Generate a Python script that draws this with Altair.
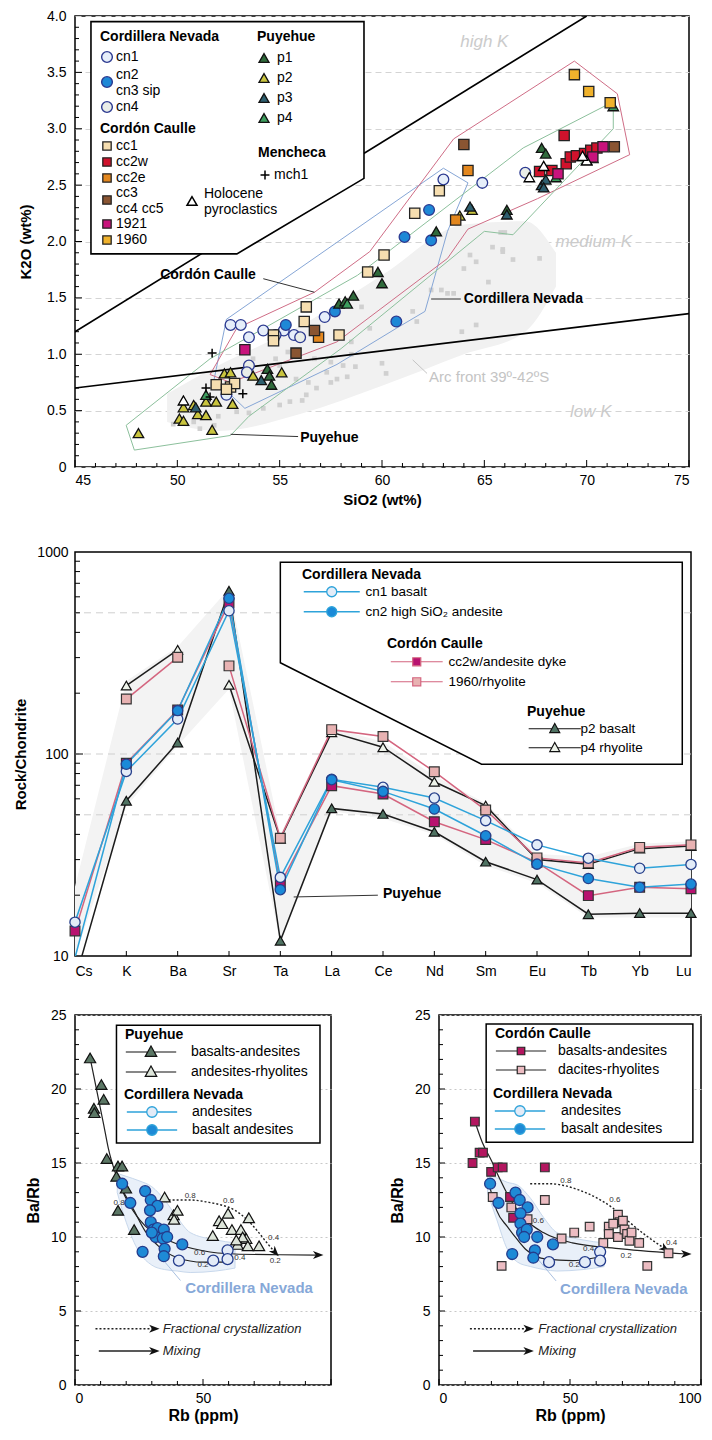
import altair as alt
import pandas as pd

FONT = "Liberation Sans"

# ======================= PANEL A : K2O vs SiO2 =======================
cn1_si = [52.6, 53.1, 53.5, 54.2, 52.4, 55.2, 55.7, 57.2, 63.0, 64.9, 54.8]
cn1_k = [1.26, 1.26, 1.15, 1.21, 0.64, 1.21, 1.17, 1.33, 2.55, 2.52, 1.17]
cn23_si = [55.3, 57.7, 61.1, 62.4, 62.3, 60.7]
cn23_k = [1.26, 1.38, 2.04, 2.01, 2.28, 1.29]
cn4_si = [53.5, 53.4, 56.0, 67.0]
cn4_k = [0.90, 0.84, 1.15, 2.61]

cc1_si = [51.9, 52.6, 52.8, 52.4, 54.7, 54.7, 56.3, 56.2, 57.9, 59.3, 60.1, 61.6, 62.8]
cc1_k = [0.73, 0.71, 0.74, 0.69, 1.17, 1.12, 1.42, 1.29, 1.17, 1.73, 1.88, 2.25, 2.45]
cc2w_si = [68.9, 67.7, 69.0, 69.2, 69.5, 69.9, 70.2, 70.5, 68.3]
cc2w_k = [2.94, 2.62, 2.69, 2.75, 2.76, 2.78, 2.81, 2.83, 2.63]
cc2e_si = [56.9, 64.2, 63.6]
cc2e_k = [1.15, 2.63, 2.19]
cc34_si = [55.8, 56.7, 64.0, 71.35]
cc34_k = [1.01, 1.21, 2.86, 2.84]
y1921_si = [53.3, 68.6, 70.8, 70.3]
y1921_k = [1.04, 2.60, 2.84, 2.75]
y1960_si = [69.4, 70.1, 71.15]
y1960_k = [3.48, 3.33, 3.23]

p1_si = [54.4, 54.5, 54.6, 57.9, 58.2, 59.8, 60.0, 62.65, 66.1, 67.8, 68.0, 58.6]
p1_k = [0.87, 0.81, 0.73, 1.45, 1.47, 1.73, 1.63, 2.09, 2.28, 2.83, 2.78, 1.52]
p2_si = [48.1, 50.3, 50.1, 50.3, 51.0, 51.4, 51.4, 51.9, 51.7, 52.3, 52.6, 52.7, 53.7, 55.1, 63.8, 64.4, 50.8]
p2_k = [0.30, 0.53, 0.43, 0.41, 0.47, 0.46, 0.58, 0.58, 0.33, 0.83, 0.84, 0.56, 0.81, 0.84, 2.23, 2.28, 0.55]
p3_si = [54.1, 50.9, 64.3, 67.8, 68.0, 67.9, 70.0, 70.3, 66.1]
p3_k = [0.77, 0.53, 2.31, 2.50, 2.55, 2.48, 2.72, 2.74, 2.24]
p4_si = [51.4, 58.3, 68.5, 71.3, 67.7]
p4_k = [0.64, 1.45, 2.57, 3.20, 2.62]
mch_si = [51.7, 51.4, 53.2, 51.6]
mch_k = [1.01, 0.70, 0.65, 0.62]
hol_si = [50.3, 67.9, 70.0, 67.2, 69.8]
hol_k = [0.59, 2.67, 2.72, 2.57, 2.76]

arc_si = [64.3, 64.0, 64.6, 65.4, 65.9, 66.4, 67.7, 65.2, 62.9, 63.2, 63.5, 63.9, 64.6, 62.4, 61.5,
          61.7, 60.0, 60.2, 58.5, 59.0, 58.3, 59.4, 65.8, 66.0, 65.9, 51.1, 51.8, 52.9, 53.5, 54.2,
          55.0, 55.5, 56.1, 56.3, 56.8, 57.5, 57.8, 56.7, 57.5, 58.1, 57.3, 55.9, 55.4, 54.8, 53.7,
          55.0, 55.8, 56.4, 58.5, 58.7, 52.0, 50.8, 49.8]
arc_k = [1.88, 1.76, 1.82, 1.95, 1.91, 1.84, 1.85, 1.64, 1.57, 1.54, 1.54, 1.20, 1.26, 1.57, 1.38,
         1.29, 0.92, 0.83, 1.11, 1.42, 0.80, 1.23, 2.08, 2.08, 1.93, 0.34, 0.37, 0.49, 0.48, 0.52,
         0.55, 0.58, 0.59, 0.64, 0.70, 0.75, 0.78, 0.96, 0.93, 0.90, 0.84, 0.99, 1.02, 0.96, 0.96,
         0.90, 0.78, 0.75, 1.00, 0.89, 0.45, 0.40, 0.38]
band_si = [49.5, 52.0, 56.0, 60.0, 64.0, 67.0, 68.5]
band_lo = [0.40, 0.32, 0.47, 0.72, 1.00, 1.20, 1.60]
band_hi = [0.65, 0.90, 1.25, 1.70, 2.15, 2.18, 1.90]

field_cn_si = [52.4, 63.0, 64.2, 63.2, 62.1, 60.7, 57.8, 53.3, 51.8, 52.4]
field_cn_k = [1.31, 2.65, 2.52, 2.09, 1.38, 1.23, 0.91, 0.52, 0.78, 1.31]
field_cc_si = [69.4, 71.5, 72.1, 67.6, 64.2, 63.2, 57.8, 52.6, 51.6, 52.9, 56.7, 59.4, 63.5, 69.4]
field_cc_k = [3.60, 3.31, 2.77, 2.38, 2.11, 1.85, 1.11, 0.75, 0.82, 1.23, 1.55, 1.91, 2.91, 3.60]
field_p_si = [47.5, 47.9, 52.6, 53.5, 58.0, 65.0, 66.4, 71.3, 71.3, 66.9, 58.8, 51.6, 47.5]
field_p_k = [0.37, 0.15, 0.28, 0.45, 1.05, 2.09, 2.06, 3.00, 3.24, 2.83, 1.70, 0.96, 0.37]

bound_si = [45, 70, 45, 75]
bound_k = [1.2, 4.0, 0.7, 1.36]
bound_id = ["hk", "hk", "lk", "lk"]

legA_box_si = [45.78, 52.91, 59.12]
legA_box_top = [3.95, 3.95, 3.95]
legA_box_bot = [1.89, 1.89, 2.56]


def pts(items):
    rows = []
    for cat, xs, ys in items:
        rows += [{"x": a, "y": b, "cat": cat} for a, b in zip(xs, ys)]
    return pd.DataFrame(rows)


def path(xs, ys, key="a"):
    return pd.DataFrame({"x": xs, "y": ys, "o": list(range(len(xs))), "key": key})


def leg(title, lx, ly, **kw):
    base = dict(orient="none", legendX=lx, legendY=ly, padding=0, direction="vertical",
                titleFont=FONT, titleFontWeight="bold", titleColor="black", titleFontSize=14,
                labelFont=FONT, labelColor="black", labelFontSize=14, labelLimit=400)
    base.update(kw)
    return alt.Legend(title=title, **base)


def yt(vals, yf, length):
    return alt.Chart(pd.DataFrame({"v": vals})).mark_rule(color="black", strokeWidth=1).encode(
        y=yf("v"), x=alt.value(0), x2=alt.value(length))


def xt(vals, xf, length, H):
    return alt.Chart(pd.DataFrame({"v": vals})).mark_rule(color="black", strokeWidth=1).encode(
        x=xf("v"), y=alt.value(H), y2=alt.value(H - length))


def line_sym(shape, L):
    if shape == "circle":
        return f"M{-L},0L-1,0M1,0L{L},0M1,0A1,1,0,1,1,-1,0A1,1,0,1,1,1,0Z"
    if shape == "square":
        return f"M{-L},0L-0.9,0M0.9,0L{L},0M-0.9,-0.9L0.9,-0.9L0.9,0.9L-0.9,0.9Z"
    return f"M{-L},0L-0.6,0M0.6,0L{L},0M0,-1.1L1.05,0.8L-1.05,0.8Z"


AXL = dict(labelFont=FONT, titleFont=FONT, labelColor="black", titleColor="black",
           titleFontWeight="bold", ticks=False, domain=False)

W1, H1 = 614, 451
sAx = alt.Scale(domain=[45, 75], nice=False, zero=False)
sAy = alt.Scale(domain=[0, 4], nice=False, zero=False)
AX_A_X = alt.Axis(title="SiO2 (wt%)", values=[45, 50, 55, 60, 65, 70, 75], grid=False, labelFontSize=14,
                  titleFontSize=15, labelPadding=6, titlePadding=5, **AXL)
AX_A_Y = alt.Axis(title="K2O (wt%)", values=[0, 0.5, 1, 1.5, 2, 2.5, 3, 3.5, 4],
                  labelExpr="datum.value == 0 ? '0' : format(datum.value, '.1f')",
                  grid=True, gridDash=[6, 4], gridColor="#d4d4d4", labelFontSize=14, titleFontSize=15,
                  labelPadding=9, titlePadding=13, **AXL)


def XA(f):
    return alt.X(f"{f}:Q", scale=sAx, axis=AX_A_X)


def YA(f):
    return alt.Y(f"{f}:Q", scale=sAy, axis=AX_A_Y)


a_band = alt.Chart(pd.DataFrame({"x": band_si, "lo": band_lo, "hi": band_hi})).mark_area(
    color="#f1f1f1", interpolate="monotone").encode(x=XA("x"), y=YA("lo"), y2="hi:Q")

a_arc = alt.Chart(pd.DataFrame({"x": arc_si, "y": arc_k})).mark_square(size=22, color="#d0d0d0", opacity=1).encode(
    x=XA("x"), y=YA("y"))

fields = pd.concat([path(field_cn_si, field_cn_k, "Cordillera Nevada"),
                    path(field_cc_si, field_cc_k, "Cordón Caulle"),
                    path(field_p_si, field_p_k, "Puyehue")])
a_fields = alt.Chart(fields).mark_line(strokeWidth=1).encode(
    x=XA("x"), y=YA("y"), order="o:Q",
    color=alt.Color("key:N", scale=alt.Scale(domain=["Cordillera Nevada", "Cordón Caulle", "Puyehue"],
                                             range=["#86a6d6", "#cf6d86", "#8cc09c"]), legend=None))

a_bounds = alt.Chart(pd.DataFrame({"x": bound_si, "y": bound_k, "key": bound_id})).mark_line(
    color="black", strokeWidth=1.6, clip=True).encode(x=XA("x"), y=YA("y"), detail="key:N")

a_box = alt.Chart(pd.DataFrame({"x": legA_box_si, "top": legA_box_top, "bot": legA_box_bot})).mark_area(
    fill="white", stroke="black", strokeWidth=1.6).encode(x=XA("x"), y=YA("bot"), y2="top:Q")

ann_gray_it = pd.DataFrame({"x": [65.0, 70.35, 70.2], "y": [3.77, 2.0, 0.49], "t": ["high K", "medium K", "low K"]})
a_txt1 = alt.Chart(ann_gray_it).mark_text(font=FONT, fontSize=17, fontStyle="italic", color="#cbcbcb").encode(
    x=XA("x"), y=YA("y"), text="t:N")
a_txt2 = alt.Chart(pd.DataFrame({"x": [62.3], "y": [0.80], "t": ["Arc front 39º-42ºS"]})).mark_text(
    font=FONT, fontSize=15, color="#c4c4c4", align="left").encode(x=XA("x"), y=YA("y"), text="t:N")
a_txt3 = alt.Chart(pd.DataFrame({"x": [51.5], "y": [1.70], "t": ["Cordón Caulle"]})).mark_text(
    font=FONT, fontSize=14, fontWeight="bold", color="black").encode(x=XA("x"), y=YA("y"), text="t:N")
a_txt4 = alt.Chart(pd.DataFrame({"x": [64.0, 56.0], "y": [1.49, 0.26], "t": ["Cordillera Nevada", "Puyehue"]})).mark_text(
    font=FONT, fontSize=14, fontWeight="bold", color="black", align="left").encode(x=XA("x"), y=YA("y"), text="t:N")
leaders = pd.DataFrame({"x": [54.2, 56.7, 62.4, 63.85, 52.6, 55.9], "y": [1.67, 1.55, 1.49, 1.49, 0.29, 0.27],
                        "key": ["a", "a", "b", "b", "c", "c"]})
a_lead = alt.Chart(leaders).mark_line(color="#333", strokeWidth=1).encode(x=XA("x"), y=YA("y"), detail="key:N")
a_lead2 = alt.Chart(pd.DataFrame({"x": [61.5, 62.2], "y": [0.95, 0.83]})).mark_line(color="#c4c4c4", strokeWidth=1).encode(
    x=XA("x"), y=YA("y"))


def group_layer(items, domain, colors, shape, size, stroke, legend, sw=1.3):
    return alt.Chart(pts(items)).mark_point(shape=shape, filled=True, size=size, stroke=stroke, strokeWidth=sw,
                                            opacity=1).encode(
        x=XA("x"), y=YA("y"),
        fill=alt.Fill("cat:N", scale=alt.Scale(domain=domain, range=colors), legend=legend))


CN_STROKE = "#2b3990"
a_cn1 = group_layer([("cn1", cn1_si, cn1_k)], ["cn1"], ["#e6eefa"], "circle", 115, CN_STROKE,
                    leg("Cordillera Nevada", 25, 14, symbolType="circle", symbolSize=115, symbolStrokeColor=CN_STROKE,
                        symbolStrokeWidth=1.4, titlePadding=6, labelOffset=2))
a_cn23 = group_layer([("cn2/cn3", cn23_si, cn23_k)], ["cn2/cn3"], ["#1e88d6"], "circle", 115, CN_STROKE,
                     leg(None, 25, 59, symbolType="circle", symbolSize=115, symbolStrokeColor=CN_STROKE,
                         symbolStrokeWidth=1.4, labelOffset=2, labelBaseline="bottom",
                         labelExpr="['cn2', 'cn3   sip']"))
a_cn4 = group_layer([("cn4", cn4_si, cn4_k)], ["cn4"], ["#e9ede8"], "circle", 115, CN_STROKE,
                    leg(None, 25, 84, symbolType="circle", symbolSize=115, symbolStrokeColor=CN_STROKE,
                        symbolStrokeWidth=1.4, labelOffset=2))

CC_OPTS = dict(symbolType="square", symbolSize=70, symbolStrokeColor="#222", symbolStrokeWidth=1.3, labelOffset=2)
a_cc1 = group_layer([("cc1", cc1_si, cc1_k), ("cc2w", cc2w_si, cc2w_k), ("cc2e", cc2e_si, cc2e_k)],
                    ["cc1", "cc2w", "cc2e"], ["#f6deb0", "#d0122c", "#e3871e"], "square", 105, "#222",
                    leg("Cordón Caulle", 25, 106, rowPadding=2, titlePadding=3, **CC_OPTS))
a_cc34 = group_layer([("cc3/cc4", cc34_si, cc34_k)], ["cc3/cc4"], ["#8a5532"], "square", 105, "#222",
                     leg(None, 25, 177, labelBaseline="bottom", labelExpr="['cc3', 'cc4   cc5']", **CC_OPTS))
a_cc5 = group_layer([("1921", y1921_si, y1921_k), ("1960", y1960_si, y1960_k)],
                    ["1921", "1960"], ["#c8137c", "#f0b22c"], "square", 105, "#222",
                    leg(None, 25, 201, rowPadding=2, **CC_OPTS))

a_p = group_layer([("p1", p1_si, p1_k), ("p2", p2_si, p2_k), ("p3", p3_si, p3_k), ("p4", p4_si, p4_k)],
                  ["p1", "p2", "p3", "p4"], ["#2f6a3b", "#c9c43e", "#2e5f6f", "#3d9d5d"], "triangle-up", 110, "#111",
                  leg("Puyehue", 182, 14, symbolType="triangle-up", symbolSize=100, symbolStrokeColor="#111",
                      symbolStrokeWidth=1.3, rowPadding=6, titlePadding=7, labelOffset=6))

PLUS = "M-1,0L1,0M0,-1L0,1"
a_m = alt.Chart(pts([("mch1", mch_si, mch_k)])).mark_point(shape=PLUS, filled=False, size=80, strokeWidth=1.5, opacity=1).encode(
    x=XA("x"), y=YA("y"),
    stroke=alt.Stroke("cat:N", scale=alt.Scale(domain=["mch1"], range=["black"]),
                      legend=leg("Mencheca", 183, 130, symbolType=PLUS, symbolSize=80, symbolStrokeWidth=1.5,
                                 titlePadding=8, labelOffset=2)))

a_h = group_layer([("Holocene pyroclastics", hol_si, hol_k)], ["Holocene pyroclastics"], ["white"], "triangle-up",
                  110, "black",
                  leg(None, 110, 178, symbolType="triangle-up", symbolSize=100, symbolStrokeColor="black",
                      symbolStrokeWidth=1.5, labelOffset=5, labelBaseline="bottom",
                      labelExpr="['Holocene', 'pyroclastics']"))

a_ticks = [
    xt([45 + 5 * i for i in range(7)], XA, 7, H1),
    xt([v for v in range(46, 75) if v % 5], XA, 4, H1),
    yt([0.5 * i for i in range(1, 8)], YA, 7),
    yt([round(0.1 * i, 1) for i in range(1, 40) if i % 5], YA, 4),
]

panelA = alt.layer(a_band, a_arc, a_fields, a_bounds, a_box, a_txt1, a_txt2, a_lead, a_lead2, a_txt3, a_txt4,
                   a_cn1, a_cn23, a_cn4, a_p, a_cc1, a_cc34, a_cc5, a_m, a_h, *a_ticks).properties(
    width=W1, height=H1).resolve_scale(fill="independent", stroke="independent", color="independent")

# ======================= PANEL B : spider diagram =======================
elems = ["Cs", "K", "Ba", "Sr", "Ta", "La", "Ce", "Nd", "Sm", "Eu", "Tb", "Yb", "Lu"]
cn1_ree = [14.7, 82, 149, 512, 24.5, 75, 68.4, 60.5, 46.8, 35.5, 30.5, 27.2, 28.4]
cn2_ree = [9.8, 89, 164, 590, 21.3, 74.6, 65.3, 53.4, 39.4, 28.5, 24.2, 21.9, 22.7]
cc2w_ree = [13.3, 90, 165, 560, 22.7, 69.7, 63.4, 46.2, 37.7, 29.1, 19.9, 21.9, 21.5]
r1960_ree = [None, 187, 301, 273, 38.3, 132, 122, 81.7, 52.8, 30.6, 28.9, 34.5, 35.5]
p2_ree = [7.6, 58.7, 114, 643, 11.9, 53.8, 50.5, 41.2, 29.3, 23.9, 16.1, 16.3, 16.3]
p4_ree = [None, 218, 328, 220, 38.0, 128, 108, 72.9, 55.5, 30.0, 28.5, 34.0, 35.0]
seg_full = [0] * 13
seg_split = [0, 0, 0, 1, 1, 1, 1, 1, 1, 1, 1, 1, 1]
env_lo = [10, 55, 110, 210, 11.5, 52, 48, 40, 28, 23, 15.5, 15.5, 15.5]
env_hi = [22, 230, 340, 660, 40, 135, 115, 78, 57, 32, 31, 36, 37]
legB_box_i = [4.0, 7.92, 11.83]
legB_box_top = [891, 891, 891]
legB_box_bot = [283, 89, 89]

W2, H2 = 616, 404
sBx = alt.Scale(domain=[0, 12], nice=False, zero=False)
sBy = alt.Scale(type="log", domain=[10, 1000], nice=False)
label_js = "[" + ",".join(f"'{e}'" for e in elems) + "][datum.value]"
AX_B_X = alt.Axis(title=None, values=list(range(13)), labelExpr=label_js, grid=False, labelFontSize=14,
                  labelPadding=8, **AXL)
AX_B_Y = alt.Axis(title="Rock/Chondrite", values=[10, 100, 1000], format="d", grid=False, labelFontSize=14,
                  titleFontSize=15, labelPadding=7, titlePadding=8, **AXL)


def XB(f):
    return alt.X(f"{f}:Q", scale=sBx, axis=AX_B_X)


def YB(f):
    return alt.Y(f"{f}:Q", scale=sBy, axis=AX_B_Y)


b_env = alt.Chart(pd.DataFrame({"i": list(range(13)), "lo": env_lo, "hi": env_hi})).mark_area(color="#f3f3f3").encode(
    x=XB("i"), y=YB("lo"), y2="hi:Q")
b_grid = alt.Chart(pd.DataFrame({"v": [50, 100, 500]})).mark_rule(color="#cfcfcf", strokeDash=[7, 5], strokeWidth=1).encode(
    y=YB("v"))
b_box = alt.Chart(pd.DataFrame({"x": legB_box_i, "top": legB_box_top, "bot": legB_box_bot})).mark_area(
    fill="white", stroke="black", strokeWidth=1.5).encode(x=XB("x"), y=YB("bot"), y2="top:Q")


def series_rows(name, grp, vals, segs):
    return [{"i": i, "v": v, "s": name, "grp": grp, "key": f"{name}-{sg}"}
            for i, (v, sg) in enumerate(zip(vals, segs)) if v is not None]


ser = pd.DataFrame(series_rows("cn1 basalt", "cn", cn1_ree, seg_full)
                   + series_rows("cn2 high SiO₂ andesite", "cn", cn2_ree, seg_full)
                   + series_rows("cc2w/andesite dyke", "cc", cc2w_ree, seg_full)
                   + series_rows("1960/rhyolite", "cc", r1960_ree, seg_split)
                   + series_rows("p2 basalt", "p", p2_ree, seg_full)
                   + series_rows("p4 rhyolite", "p", p4_ree, seg_split))
b_lines = []
for g, col in [("p", "#1c1c1c"), ("cc", "#d4657f"), ("cn", "#2ea3da")]:
    b_lines.append(alt.Chart(ser[ser.grp == g]).mark_line(color=col, strokeWidth=1.5, clip=True).encode(
        x=XB("i"), y=YB("v"), detail="key:N", order="i:Q"))

visible = ser[ser.v >= 10]
b_p = alt.Chart(visible[visible.grp == "p"]).mark_point(shape="triangle-up", filled=True, size=100, stroke="#111",
                                                         strokeWidth=1.2, opacity=1).encode(
    x=XB("i"), y=YB("v"),
    fill=alt.Fill("s:N", scale=alt.Scale(domain=["p2 basalt", "p4 rhyolite"], range=["#4f7262", "#eef3ea"]),
                  legend=leg("Puyehue", 452, 153, symbolType=line_sym("triangle", 5.5), symbolSize=90,
                             symbolStrokeColor="#111", symbolStrokeWidth=1.2, symbolOffset=21, labelOffset=19,
                             rowPadding=4, titlePadding=3, labelFontSize=13.5)))
b_cc = alt.Chart(visible[visible.grp == "cc"]).mark_point(shape="square", filled=True, size=95, stroke="#333",
                                                           strokeWidth=1.2, opacity=1).encode(
    x=XB("i"), y=YB("v"),
    fill=alt.Fill("s:N", scale=alt.Scale(domain=["cc2w/andesite dyke", "1960/rhyolite"], range=["#b8126f", "#e8b2b2"]),
                  legend=leg("Cordón Caulle", 312, 85, symbolType=line_sym("square", 5.8), symbolSize=80,
                             symbolStrokeColor="#d4657f", symbolStrokeWidth=1.2, symbolOffset=23, labelOffset=25,
                             rowPadding=5, titlePadding=4, labelFontSize=13.5)))
b_cn = alt.Chart(visible[visible.grp == "cn"]).mark_point(shape="circle", filled=True, size=105, stroke="#27408b",
                                                           strokeWidth=1.3, opacity=1).encode(
    x=XB("i"), y=YB("v"),
    fill=alt.Fill("s:N", scale=alt.Scale(domain=["cn1 basalt", "cn2 high SiO₂ andesite"], range=["#e3ecf8", "#1a8ad8"]),
                  legend=leg("Cordillera Nevada", 227, 16, symbolType=line_sym("circle", 5.6), symbolSize=100,
                             symbolStrokeColor="#2ea3da", symbolStrokeWidth=1.3, symbolOffset=23, labelOffset=27,
                             rowPadding=4, titlePadding=3, labelFontSize=13.5)))
b_txt = alt.Chart(pd.DataFrame({"x": [6.0], "y": [20.3], "t": ["Puyehue"]})).mark_text(
    font=FONT, fontSize=14, fontWeight="bold", color="black", align="left").encode(x=XB("x"), y=YB("y"), text="t:N")
b_lead = alt.Chart(pd.DataFrame({"x": [4.26, 5.9], "y": [19.6, 20.0]})).mark_line(color="#333", strokeWidth=1).encode(
    x=XB("x"), y=YB("y"))
b_ticks = [
    yt([100], YB, 8),
    yt([20, 30, 40, 50, 60, 70, 80, 90, 200, 300, 400, 500, 600, 700, 800, 900], YB, 5),
    xt(list(range(1, 12)), XB, 5, H2),
]
panelB = alt.layer(b_env, b_grid, b_box, *b_lines, b_lead, b_txt, b_p, b_cc, b_cn, *b_ticks).properties(
    width=W2, height=H2).resolve_scale(fill="independent", stroke="independent", color="independent")

# ======================= PANEL C : Ba/Rb vs Rb =======================
pb_rb = [5.9, 10.3, 11.2, 7.4, 7.6, 12.4, 16.8, 18.4, 16.2, 19.9, 16.8, 23.1]
pb_br = [22.1, 20.3, 19.3, 18.7, 18.4, 15.3, 14.8, 14.8, 14.1, 13.3, 11.8, 10.5]
pr_rb = [35.0, 38.5, 40.0, 38.7, 53.8, 56.3, 57.5, 59.8, 61.3, 64.8, 63.5, 66.9, 67.5, 67.9, 71.9, 65.5, 63.0]
pr_br = [12.7, 11.5, 11.8, 11.2, 10.1, 11.1, 10.9, 11.6, 10.5, 10.5, 9.5, 9.9, 9.4, 11.3, 9.4, 10.0, 9.8]
cnbL_rb = [18.4, 21.6, 27.4, 29.6, 32.2, 29.3, 29.6, 30.6, 32.2, 31.5, 34.7, 34.3, 36.0, 35.0, 34.7, 41.9, 26.4, 30.0]
cnbL_br = [13.6, 12.3, 13.1, 12.5, 12.1, 11.8, 11.0, 10.5, 10.6, 10.0, 10.5, 9.9, 10.0, 9.2, 8.7, 9.5, 9.0, 10.3]
cnaL_rb = [40.6, 54.0, 59.6, 59.6]
cnaL_br = [8.4, 8.4, 9.1, 8.5]

ccb_rb = [13.7, 12.8, 15.5, 16.8, 19.9, 22.4, 24.3, 40.4, 27.1, 28.3]
ccb_br = [17.8, 15.0, 15.7, 15.7, 14.4, 14.7, 14.7, 14.7, 12.7, 11.3]
ccd_rb = [20.5, 23.9, 40.4, 46.8, 51.6, 57.5, 62.7, 64.8, 64.8, 68.3, 68.9, 68.3, 70.2, 70.8, 71.8, 72.7, 73.5,
          76.4, 79.5, 87.6, 27.6, 33.8, 66.5]
ccd_br = [12.7, 8.05, 12.5, 9.9, 10.3, 10.7, 9.6, 10.7, 10.2, 11.5, 11.0, 10.0, 11.1, 10.5, 10.2, 9.75, 10.3,
          9.6, 8.05, 8.9, 12.0, 11.2, 10.9]
cnbR_rb = [19.5, 22.7, 29.2, 30.8, 33.8, 31.1, 31.1, 31.7, 33.5, 32.5, 37.5, 36.6, 36.0, 43.5, 27.95]
cnbR_br = [13.6, 12.3, 13.0, 12.5, 12.0, 11.6, 10.9, 10.3, 10.5, 10.0, 10.0, 9.1, 8.6, 9.5, 8.85]
cnaR_rb = [42.0, 55.7, 61.5, 61.5]
cnaR_br = [8.3, 8.3, 9.0, 8.4]

mixP_rb = [5.9, 8.6, 11.2, 13.0, 16.2, 21.2, 27.4, 37.5, 50.0, 62.5, 80.0, 95.0]
mixP_br = [22.1, 19.8, 17.6, 16.0, 14.1, 12.2, 10.75, 9.7, 9.07, 8.85, 8.8, 8.78]
mixCNL_rb = [18.0, 22.4, 27.4, 32.5, 40.0, 50.0, 60.0]
mixCNL_br = [13.3, 12.0, 10.4, 9.4, 8.6, 8.3, 8.3]
fcL_rb = [35.0, 45.0, 52.0, 56.3, 62.5, 67.0, 71.3, 75.0, 78.2]
fcL_br = [12.5, 12.5, 12.35, 12.2, 11.8, 11.2, 10.4, 9.6, 8.96]
mixCC_rb = [13.7, 16.5, 19.9, 23.0, 26.1, 32.3, 39.8, 50.9, 69.6, 94.4]
mixCC_br = [17.8, 16.4, 15.2, 14.0, 12.9, 11.3, 10.3, 9.6, 9.2, 8.85]
mixCNR_rb = [19.5, 22.0, 26.1, 30.0, 33.5, 41.0, 50.9, 59.6]
mixCNR_br = [13.3, 11.8, 10.7, 9.8, 9.1, 8.5, 8.4, 8.6]
fcR_rb = [34.8, 42.0, 47.2, 53.0, 59.6, 66.0, 72.0, 79.0, 86.3]
fcR_br = [13.6, 13.6, 13.5, 13.2, 12.7, 12.0, 11.1, 10.1, 9.2]

numL_t = ["0.8", "0.6", "0.4", "0.2", "0.4", "0.6", "0.2", "0.8"]
numL_x = [45.0, 60.0, 77.6, 78.2, 64.4, 48.7, 50.0, 17.2]
numL_y = [12.8, 12.4, 9.9, 8.4, 8.6, 8.9, 8.1, 12.3]
numR_t = ["0.8", "0.6", "0.4", "0.6", "0.4", "0.2", "0.2"]
numR_x = [48.4, 67.1, 88.8, 37.9, 57.1, 71.4, 51.6]
numR_y = [13.8, 12.5, 9.6, 11.05, 9.2, 8.7, 8.1]

fieldL_x = [16.5, 20, 25, 30, 35, 40, 45, 55, 62.5]
fieldL_lo = [13.0, 11.0, 9.0, 8.1, 7.8, 7.7, 7.6, 7.7, 7.9]
fieldL_hi = [14.3, 14.1, 13.8, 13.4, 12.5, 11.3, 10.3, 9.8, 9.6]
fieldR_x = [18.5, 22, 26, 30, 35, 40, 45, 55, 63]
fieldR_lo = [13.0, 11.2, 9.2, 8.3, 8.0, 7.8, 7.7, 7.8, 8.0]
fieldR_hi = [14.2, 14.0, 13.7, 13.5, 12.6, 11.3, 10.3, 9.8, 9.6]

ARROW = "M-1,-0.75L1,0L-1,0.75L-0.45,0Z"
sCx = alt.Scale(domain=[0, 100], nice=False, zero=False)
sCy = alt.Scale(domain=[0, 25], nice=False, zero=False)


def bottom_panel(W, H, show100, field, box, mixA, mixB, fc, arrows, nums, cnlab, cnlead, keyx, groupA, cn_b, cn_a,
                 legA, legB):
    ax_x = alt.Axis(title="Rb (ppm)", values=[0, 50, 100],
                    labelExpr="datum.value == 100 ? '" + ("100" if show100 else "") + "' : datum.value",
                    grid=False, labelFontSize=14, titleFontSize=16, labelPadding=6, titlePadding=2, **AXL)
    ax_y = alt.Axis(title="Ba/Rb", values=[0, 5, 10, 15, 20, 25], grid=True, gridDash=[2, 3], gridColor="#c8c8c8",
                    labelFontSize=14, titleFontSize=16, labelPadding=9, titlePadding=9, **AXL)

    def XC(f):
        return alt.X(f"{f}:Q", scale=sCx, axis=ax_x)

    def YC(f):
        return alt.Y(f"{f}:Q", scale=sCy, axis=ax_y)

    fx, flo, fhi = field
    c_field = alt.Chart(pd.DataFrame({"x": fx, "lo": flo, "hi": fhi})).mark_area(
        color="#e9f0f9", stroke="#c8d8ec", strokeWidth=1, interpolate="monotone").encode(
        x=XC("x"), y=YC("lo"), y2="hi:Q")
    c_box = alt.Chart(pd.DataFrame({"x": [box[0]], "x2": [box[1]], "y": [box[2]], "y2": [box[3]]})).mark_rect(
        fill="white", stroke="black", strokeWidth=1.5).encode(x=XC("x"), x2="x2:Q", y=YC("y"), y2="y2:Q")
    mix = pd.concat([path(mixA[0], mixA[1], "A"), path(mixB[0], mixB[1], "B")])
    c_mix = alt.Chart(mix).mark_line(color="#222", strokeWidth=1.2, interpolate="monotone").encode(
        x=XC("x"), y=YC("y"), detail="key:N", order="o:Q")
    c_fc = alt.Chart(path(fc[0], fc[1])).mark_line(color="#222", strokeWidth=1.4, strokeDash=[2, 2],
                                                   interpolate="monotone").encode(x=XC("x"), y=YC("y"), order="o:Q")
    k_fc = alt.Chart(pd.DataFrame({"x": [keyx[0], keyx[1]], "y": [3.8, 3.8]})).mark_line(
        color="#222", strokeWidth=1.4, strokeDash=[2, 2]).encode(x=XC("x"), y=YC("y"))
    k_mx = alt.Chart(pd.DataFrame({"x": [keyx[2], keyx[1]], "y": [2.3, 2.3]})).mark_line(
        color="#222", strokeWidth=1.4).encode(x=XC("x"), y=YC("y"))
    arr = pd.DataFrame({"x": arrows[0] + [keyx[1], keyx[1]], "y": arrows[1] + [3.8, 2.3],
                        "a": arrows[2] + [0, 0]})
    c_arr = alt.Chart(arr).mark_point(shape=ARROW, filled=True, color="#111", size=110, opacity=1).encode(
        x=XC("x"), y=YC("y"), angle=alt.Angle("a:Q", scale=None))
    k_txt = alt.Chart(pd.DataFrame({"x": [keyx[3], keyx[3]], "y": [3.8, 2.3],
                                    "t": [keyx[4], "Mixing"]})).mark_text(
        font=FONT, fontSize=13, fontStyle="italic", color="#222", align="left").encode(
        x=XC("x"), y=YC("y"), text="t:N")
    c_nums = alt.Chart(pd.DataFrame({"x": nums[1], "y": nums[2], "t": nums[0]})).mark_text(
        font=FONT, fontSize=8, color="#333").encode(x=XC("x"), y=YC("y"), text="t:N")
    c_cnlab = alt.Chart(pd.DataFrame({"x": [cnlab[0]], "y": [cnlab[1]], "t": ["Cordillera Nevada"]})).mark_text(
        font=FONT, fontSize=15, fontWeight="bold", color="#86a8d8", align="left").encode(
        x=XC("x"), y=YC("y"), text="t:N")
    c_cnlead = alt.Chart(pd.DataFrame({"x": cnlead[0], "y": cnlead[1]})).mark_line(
        color="#a9c0e0", strokeWidth=1).encode(x=XC("x"), y=YC("y"))
    gA = groupA
    c_gA = alt.Chart(pts([(gA["names"][0], gA["b"][0], gA["b"][1]), (gA["names"][1], gA["r"][0], gA["r"][1])])).mark_point(
        shape=gA["shape"], filled=True, size=gA["size"], stroke=gA["stroke"], strokeWidth=1.2, opacity=1).encode(
        x=XC("x"), y=YC("y"),
        fill=alt.Fill("cat:N", scale=alt.Scale(domain=gA["names"], range=gA["colors"]), legend=legA))
    c_cn = alt.Chart(pts([("basalt andesites", cn_b[0], cn_b[1]), ("andesites", cn_a[0], cn_a[1])])).mark_point(
        shape="circle", filled=True, size=120, stroke="#243c8c", strokeWidth=1.3, opacity=1).encode(
        x=XC("x"), y=YC("y"),
        fill=alt.Fill("cat:N", scale=alt.Scale(domain=["andesites", "basalt andesites"], range=["#e3ebf7", "#1e8ad6"]),
                      legend=legB))
    ticks = [
        xt([0, 50, 100], XC, 6, H),
        xt([10, 20, 30, 40, 60, 70, 80, 90], XC, 4, H),
        yt([5, 10, 15, 20], YC, 6),
        yt([v for v in range(1, 25) if v % 5], YC, 4),
    ]
    return alt.layer(c_field, c_box, c_cnlead, c_mix, c_fc, k_fc, k_mx, c_arr, k_txt, c_nums, c_cnlab,
                     c_gA, c_cn, *ticks).properties(width=W, height=H).resolve_scale(
        fill="independent", stroke="independent", color="independent")


WL, WR, HC = 256, 262, 370
legPu = leg("Puyehue", 50, 13, symbolType=line_sym("triangle", 4.6), symbolSize=120, symbolStrokeColor="#111",
            symbolStrokeWidth=1.2, symbolOffset=19, labelOffset=33, rowPadding=4, titlePadding=3)
legCNl = leg("Cordillera Nevada", 49, 73, symbolType=line_sym("circle", 4.8), symbolSize=110,
             symbolStrokeColor="#2ea3da", symbolStrokeWidth=1.3, symbolOffset=21, labelOffset=33, rowPadding=2,
             titlePadding=3)
legCC = leg("Cordón Caulle", 56, 12, symbolType=line_sym("square", 6.0), symbolSize=70, symbolStrokeColor="#222",
            symbolStrokeWidth=1.2, symbolOffset=19, labelOffset=30, rowPadding=5, titlePadding=3)
legCNr = leg("Cordillera Nevada", 54, 72, symbolType=line_sym("circle", 4.8), symbolSize=110,
             symbolStrokeColor="#2ea3da", symbolStrokeWidth=1.3, symbolOffset=20, labelOffset=34, rowPadding=2,
             titlePadding=3)

left = bottom_panel(
    WL, HC, False, (fieldL_x, fieldL_lo, fieldL_hi), (16.2, 95.7, 24.3, 16.35),
    (mixP_rb, mixP_br), (mixCNL_rb, mixCNL_br), (fcL_rb, fcL_br),
    ([95.0, 78.2], [8.78, 8.96], [0, 48]), (numL_t, numL_x, numL_y),
    (43.1, 6.54), ([41.2, 33.7], [7.06, 8.6]), (8.0, 31.0, 9.3, 34.3, "Fractional crystallization"),
    {"names": ["basalts-andesites", "andesites-rhyolites"], "b": (pb_rb, pb_br), "r": (pr_rb, pr_br),
     "shape": "triangle-up", "size": 125, "stroke": "#111", "colors": ["#5b7765", "#dde5da"]},
    (cnbL_rb, cnbL_br), (cnaL_rb, cnaL_br), legPu, legCNl)

right = bottom_panel(
    WR, HC, True, (fieldR_x, fieldR_lo, fieldR_hi), (18.0, 96.9, 24.4, 16.4),
    (mixCC_rb, mixCC_br), (mixCNR_rb, mixCNR_br), (fcR_rb, fcR_br),
    ([94.4, 86.3], [8.85, 9.2], [0, 34]), (numR_t, numR_x, numR_y),
    (46.2, 6.5), ([44.7, 37.3], [7.03, 8.6]), (11.8, 34.2, 13.0, 37.9, "Fractional  crystallization"),
    {"names": ["basalts-andesites", "dacites-rhyolites"], "b": (ccb_rb, ccb_br), "r": (ccd_rb, ccd_br),
     "shape": "square", "size": 75, "stroke": "#333", "colors": ["#b3165f", "#ecbcc2"]},
    (cnbR_rb, cnbR_br), (cnaR_rb, cnaR_br), legCC, legCNr)

bottom = alt.hconcat(left, right, spacing=55)
upper = alt.vconcat(panelA, panelB, spacing=36)
chart = alt.vconcat(upper, bottom, spacing=28).properties(
    padding={"left": 5, "top": 0, "right": 0, "bottom": 0}
).configure_view(stroke="black", strokeWidth=1.5).configure_text(font=FONT)

chart.save("out.html", embed_options={"renderer": "svg", "actions": False})
